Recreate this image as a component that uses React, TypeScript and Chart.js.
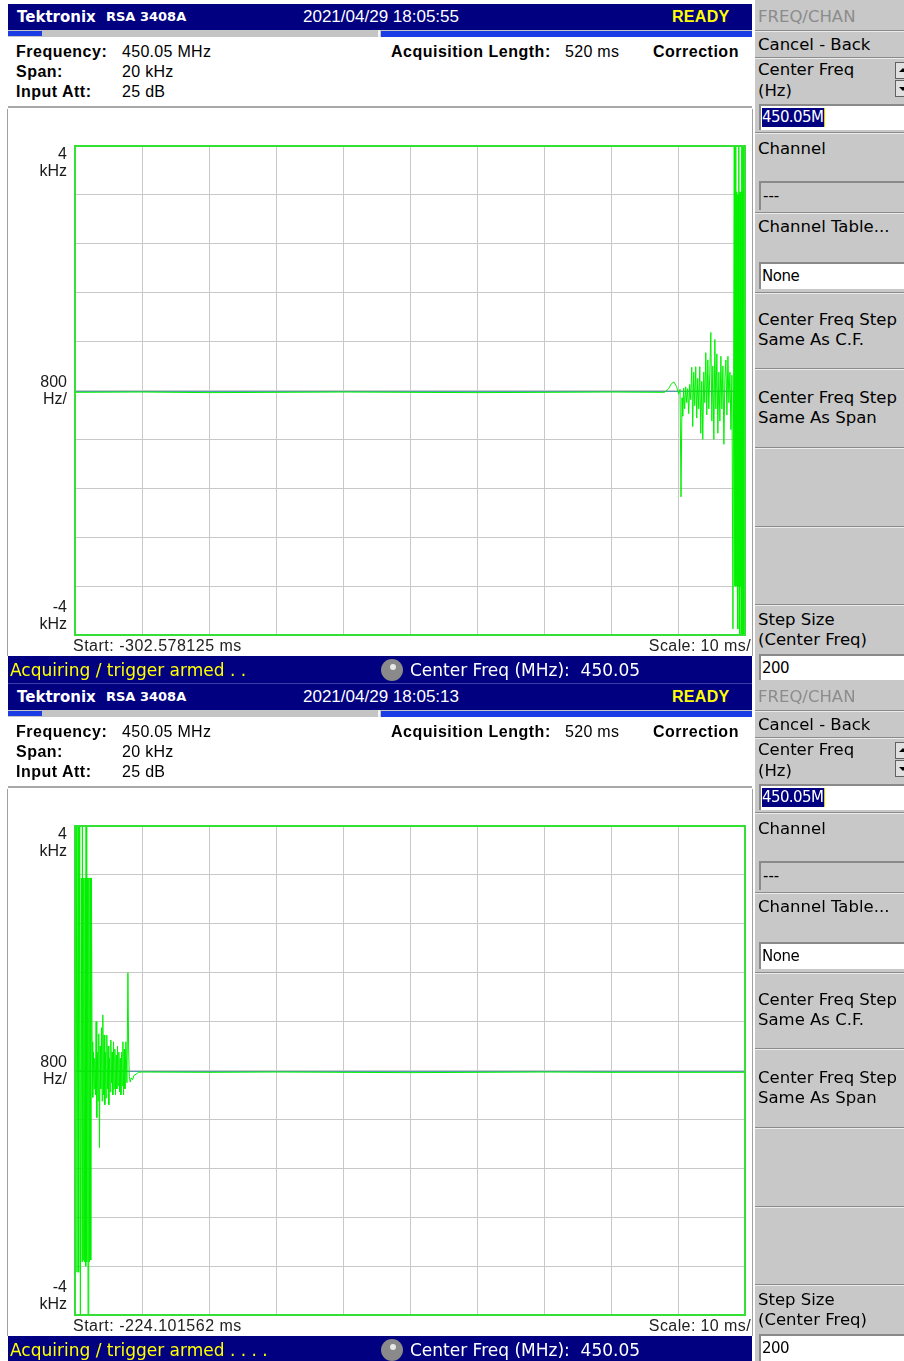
import React, { useEffect, useRef } from 'react';
import { Chart, registerables } from 'chart.js';

Chart.register(...registerables);

// ---- axis setup (10 ms/div, 800 Hz/div) ----
const X_MIN = 0;
const X_MAX = 100;
const X_STEP = 10;
const Y_MIN = -4000;
const Y_MAX = 4000;
const Y_STEP = 800;
const Y_LABEL_VALUES = [4000, 0, -4000];
const Y_LABEL_LINES = [['4', 'kHz'], ['800', 'Hz/'], ['-4', 'kHz']];

// ---- trace 1 (18:05:55) : time in ms from start, frequency offset in Hz ----
const TOP_T = [
  0, 10, 20, 30, 40, 50, 60, 70, 80, 88.0, 88.6, 89.0, 89.4, 89.8, 90.1, 90.3, 90.45, 90.6, 90.7, 90.85,
  91.0, 91.15, 91.3, 91.45, 91.6, 91.75, 91.9, 92.05, 92.2, 92.35, 92.5, 92.65, 92.8, 92.95, 93.1, 93.25,
  93.4, 93.55, 93.7, 93.85, 94.0, 94.15, 94.3, 94.45, 94.6, 94.75, 94.9, 95.05, 95.2, 95.35, 95.5, 95.65,
  95.8, 95.95, 96.1, 96.25, 96.4, 96.55, 96.7, 96.85, 97.0, 97.15, 97.3, 97.45, 97.6, 97.75, 97.9, 98.05,
  98.2, 98.3, 98.4, 98.45, 98.5, 98.55, 98.6, 98.65, 98.7, 98.75, 98.8, 98.85, 98.9, 98.95, 99.0, 99.05,
  99.1, 99.15, 99.2, 99.25, 99.3, 99.35, 99.4, 99.45, 99.5, 99.55, 99.6, 99.65, 99.7, 99.75, 99.8, 99.85,
  99.9, 99.95, 100,
];
const TOP_F = [
  -30, -25, -35, -30, -25, -30, -35, -30, -25, -30, 30, 110, 140, 60, -60, 20, -1740, -120, -420, 40,
  -300, 60, -200, 30, -380, 100, -150, 380, -590, 300, -250, 390, -450, 200, -300, 390,
  -700, 150, -800, 300, -200, 620, -400, 500, -300, 300, 950, -500, 400, -800, 835, -300,
  600, -700, 300, -500, 560, -300, 400, -880, 200, 500, -400, 560, -200, 300, -640, 250,
  -3900, 300, 4000, -3200, 3250, -3200, 4000, -3100, 3240, -3200, 3250, -3100, 3200, -3900, 3200, -3200,
  4000, -3200, 3250, -4000, 3200, -3200, 3250, -3200, 4000, -4000, 3250, -4000, 4000, -3200, 4000, -4000,
  4000, -4000, 4000,
];

// ---- trace 2 (18:05:13) ----
const BOT_T = [
  0, 0.05, 0.2, 0.3, 0.45, 0.55, 0.7, 0.8, 0.95, 1.05, 1.1, 1.2, 1.3, 1.4, 1.5, 1.6, 1.65, 1.75, 1.85, 1.95,
  2.05, 2.15, 2.25, 2.35, 2.45, 2.55, 2.65, 2.75, 2.85, 2.95, 3.05, 3.15, 3.25, 3.35, 3.45, 3.55, 3.65, 3.75,
  3.85, 3.95, 4.05, 4.15, 4.25, 4.35, 4.45, 4.55, 4.65, 4.75, 4.85, 4.95, 5.05, 5.15, 5.25, 5.35, 5.45, 5.55,
  5.65, 5.75, 5.85, 5.95, 6.05, 6.15, 6.25, 6.35, 6.45, 6.55, 6.65, 6.75, 6.85, 6.95, 7.05, 7.15, 7.25, 7.35,
  7.45, 7.6, 7.75, 7.9, 8.0, 8.1, 8.25, 8.4, 8.6, 8.8, 9.1, 9.5, 10, 20, 30, 40, 50, 60, 70, 80, 90, 100,
];
const BOT_F = [
  4000, -4000, 4000, -3300, 4000, -3300, 4000, -4000, 3150, -3130, 4000, -3100, 3150, -3130, 3150, -3200, 4000, -3130, 3150, -4000,
  3150, -3130, 3150, -3100, 3150, 470, -440, 300, -300, 200, -400, 800, -770, 300, -500, 600, -1260, 400,
  -300, 700, -500, 910, -400, 580, -560, 300, -450, 580, -300, 400, -560, 200, -350, 500, -200, 300,
  -400, 470, -300, 350, -400, 250, -300, 400, -250, 300, -350, 200, -400, 300, -250, 470, -400, 350,
  -300, 470, -200, 1600, 400, -100, -190, -120, -150, -80, -60, -30, -25, -30, -25, -30, -35, -30, -25, -30, -30, -30,
];

const FONT = '"Liberation Sans", Arial, sans-serif';
const WIDE = '"DejaVu Sans", Verdana, sans-serif';
const NAVY = '#000080';
const PANEL_GRAY = '#c8c8c8';
const TRACE = '#00f000';

const framePlugin = {
  id: 'frame',
  beforeDatasetsDraw(chart: any) {
    const { ctx, chartArea, scales } = chart;
    const py = Math.round(scales.y.getPixelForValue(0)) + 0.5;
    ctx.save();
    ctx.strokeStyle = '#4f9fb4';
    ctx.lineWidth = 1;
    ctx.beginPath();
    ctx.moveTo(chartArea.left, py);
    ctx.lineTo(chartArea.right, py);
    ctx.stroke();
    ctx.restore();
  },
  afterDraw(chart: any) {
    const { ctx, chartArea, scales } = chart;
    ctx.save();
    ctx.strokeStyle = '#33e033';
    ctx.lineWidth = 2;
    ctx.strokeRect(chartArea.left, chartArea.top, chartArea.right - chartArea.left, chartArea.bottom - chartArea.top);
    ctx.fillStyle = '#1a1a1a';
    ctx.font = '16px ' + FONT;
    ctx.textAlign = 'right';
    const lh = 17;
    const x = chartArea.left - 8;
    Y_LABEL_VALUES.forEach((v, i) => {
      const p = scales.y.getPixelForValue(v);
      const lines = Y_LABEL_LINES[i];
      let first: number;
      if (i === 0) first = p + 9;
      else if (i === Y_LABEL_VALUES.length - 1) first = p - 27;
      else first = p - 8;
      ctx.textBaseline = 'middle';
      lines.forEach((l, k) => ctx.fillText(l, x, first + k * lh));
    });
    ctx.restore();
  },
};

function TraceChart({ times, freqs }: { times: number[]; freqs: number[] }) {
  const ref = useRef<HTMLCanvasElement>(null);
  useEffect(() => {
    if (!ref.current) return;
    const data = times.map((t, i) => ({ x: t, y: freqs[i] }));
    const gridOpts = { color: '#c8c8c8', lineWidth: 1, drawTicks: false };
    const chart = new Chart(ref.current, {
      type: 'line',
      data: {
        datasets: [
          {
            data,
            borderColor: TRACE,
            borderWidth: 1,
            pointRadius: 0,
            tension: 0,
            fill: false,
          },
        ],
      },
      options: {
        animation: false,
        responsive: false,
        devicePixelRatio: 1,
        layout: { padding: { left: 67, top: 37, right: 7, bottom: 21 } },
        plugins: { legend: { display: false }, tooltip: { enabled: false } },
        events: [],
        scales: {
          x: {
            type: 'linear',
            min: X_MIN,
            max: X_MAX,
            ticks: { display: false, stepSize: X_STEP },
            grid: gridOpts,
            border: { display: false },
          },
          y: {
            type: 'linear',
            min: Y_MIN,
            max: Y_MAX,
            ticks: { display: false, stepSize: Y_STEP },
            grid: gridOpts,
            border: { display: false },
          },
        },
      } as any,
      plugins: [framePlugin],
    });
    return () => chart.destroy();
  }, [times, freqs]);
  return <canvas ref={ref} width={744} height={547} style={{ position: 'absolute', left: 8, top: 109, width: 744, height: 547 }} />;
}

function T({ x, y, children, style }: { x: number; y: number; children: React.ReactNode; style?: React.CSSProperties }) {
  return (
    <div style={{ position: 'absolute', left: x, top: y - 10, lineHeight: '20px', whiteSpace: 'nowrap', fontSize: 16, ...style }}>
      {children}
    </div>
  );
}

const BOLD: React.CSSProperties = { fontWeight: 'bold', letterSpacing: 0.5 };
const NORM: React.CSSProperties = { letterSpacing: 0.3 };
const SIDE: React.CSSProperties = { fontSize: 16.5 };

function Sep({ y }: { y: number }) {
  return (
    <div style={{ position: 'absolute', left: 0, top: y, width: 149, height: 1, background: '#8a8a8a', borderBottom: '1px solid #ececec' }} />
  );
}

function InputBox({ y, h, bg, children }: { y: number; h: number; bg: string; children: React.ReactNode }) {
  return (
    <div
      style={{
        position: 'absolute',
        left: 4,
        top: y,
        width: 150,
        height: h,
        background: bg,
        borderTop: '2px solid #8a8a8a',
        borderLeft: '2px solid #8a8a8a',
        boxSizing: 'border-box',
      }}
    >
      {children}
    </div>
  );
}

function SidePanel() {
  return (
    <div style={{ position: 'absolute', left: 755, top: 0, width: 149, height: 683, background: PANEL_GRAY, overflow: 'hidden', fontFamily: WIDE }}>
      <T x={3} y={17} style={{ ...SIDE, color: '#8c8c8c' }}>FREQ/CHAN</T>
      <Sep y={30} />
      <T x={3} y={45} style={SIDE}>Cancel - Back</T>
      <Sep y={57} />
      <T x={3} y={70} style={SIDE}>Center Freq</T>
      <T x={3} y={91} style={SIDE}>(Hz)</T>
      <div style={{ position: 'absolute', left: 140, top: 62, width: 12, height: 17, background: '#e0e0e0', border: '1px solid #606060', boxSizing: 'border-box' }}>
        <div style={{ position: 'absolute', left: 3, top: 5, width: 0, height: 0, borderLeft: '4px solid transparent', borderRight: '4px solid transparent', borderBottom: '4px solid #000' }} />
      </div>
      <div style={{ position: 'absolute', left: 140, top: 80, width: 12, height: 17, background: '#e0e0e0', border: '1px solid #606060', boxSizing: 'border-box' }}>
        <div style={{ position: 'absolute', left: 3, top: 6, width: 0, height: 0, borderLeft: '4px solid transparent', borderRight: '4px solid transparent', borderTop: '4px solid #000' }} />
      </div>
      <InputBox y={104} h={26} bg="#ffffff">
        <span style={{ position: 'absolute', left: 1, top: 2, height: 19, lineHeight: '19px', background: NAVY, color: '#fff', fontSize: 15, letterSpacing: -0.6, paddingRight: 1, borderRight: '1px solid #e0d000' }}>450.05M</span>
      </InputBox>
      <Sep y={132} />
      <T x={3} y={149} style={SIDE}>Channel</T>
      <InputBox y={181} h={29} bg={PANEL_GRAY}>
        <span style={{ position: 'absolute', left: 2, top: 3, fontSize: 15, lineHeight: '20px' }}>---</span>
      </InputBox>
      <Sep y={212} />
      <T x={3} y={227} style={SIDE}>Channel Table...</T>
      <InputBox y={262} h={27} bg="#ffffff">
        <span style={{ position: 'absolute', left: 1, top: 2, fontSize: 15, lineHeight: '20px', letterSpacing: -0.5 }}>None</span>
      </InputBox>
      <Sep y={292} />
      <T x={3} y={320} style={SIDE}>Center Freq Step</T>
      <T x={3} y={340} style={SIDE}>Same As C.F.</T>
      <Sep y={368} />
      <T x={3} y={398} style={SIDE}>Center Freq Step</T>
      <T x={3} y={418} style={SIDE}>Same As Span</T>
      <Sep y={447} />
      <Sep y={526} />
      <Sep y={604} />
      <T x={3} y={620} style={SIDE}>Step Size</T>
      <T x={3} y={640} style={SIDE}>(Center Freq)</T>
      <InputBox y={654} h={27} bg="#ffffff">
        <span style={{ position: 'absolute', left: 1, top: 2, fontSize: 15, lineHeight: '20px', letterSpacing: -0.5 }}>200</span>
      </InputBox>
    </div>
  );
}

function Panel({ top, date, start, status, times, freqs }: { top: number; date: string; start: string; status: string; times: number[]; freqs: number[] }) {
  return (
    <div style={{ position: 'absolute', left: 0, top, width: 904, height: 683, fontFamily: FONT, color: '#000' }}>
      {/* header */}
      <div style={{ position: 'absolute', left: 8, top: 4, width: 744, height: 26, background: NAVY }} />
      <T x={17} y={17} style={{ color: '#fff', fontWeight: 'bold', fontSize: 15, fontFamily: WIDE }}>Tektronix</T>
      <T x={106} y={17} style={{ color: '#fff', fontWeight: 'bold', fontSize: 13, fontFamily: WIDE }}>RSA 3408A</T>
      <T x={303} y={17} style={{ color: '#fff', fontSize: 17 }}>{date}</T>
      <T x={672} y={17} style={{ color: '#ffff00', fontWeight: 'bold', fontSize: 16, letterSpacing: 0.3 }}>READY</T>
      {/* progress strip */}
      <div style={{ position: 'absolute', left: 8, top: 30, width: 744, height: 7, background: '#c4c4c4' }} />
      <div style={{ position: 'absolute', left: 8, top: 31, width: 34, height: 5, background: '#1c3ce6' }} />
      <div style={{ position: 'absolute', left: 378, top: 30, width: 2, height: 7, background: '#f4f4f4' }} />
      <div style={{ position: 'absolute', left: 381, top: 31, width: 371, height: 6, background: '#1c3ce6' }} />
      {/* info */}
      <T x={16} y={52} style={BOLD}>Frequency:</T>
      <T x={122} y={52} style={NORM}>450.05 MHz</T>
      <T x={16} y={72} style={BOLD}>Span:</T>
      <T x={122} y={72} style={NORM}>20 kHz</T>
      <T x={16} y={92} style={BOLD}>Input Att:</T>
      <T x={122} y={92} style={NORM}>25 dB</T>
      <T x={391} y={52} style={BOLD}>Acquisition Length:</T>
      <T x={565} y={52} style={NORM}>520 ms</T>
      <T x={653} y={52} style={BOLD}>Correction</T>
      <div style={{ position: 'absolute', left: 8, top: 106, width: 744, height: 2, background: '#a8a8a8' }} />
      {/* plot */}
      <div style={{ position: 'absolute', left: 7, top: 109, width: 1, height: 547, background: '#a0a0a0' }} />
      <div style={{ position: 'absolute', left: 752, top: 109, width: 1, height: 547, background: '#a0a0a0' }} />
      <TraceChart times={times} freqs={freqs} />
      <T x={73} y={646} style={{ color: '#222', letterSpacing: 0.5 }}>{'Start: ' + start}</T>
      <div style={{ position: 'absolute', right: 904 - 751, top: 636, lineHeight: '20px', whiteSpace: 'nowrap', fontSize: 16, color: '#222', letterSpacing: 0.4 }}>Scale: 10 ms/</div>
      {/* status bar */}
      <div style={{ position: 'absolute', left: 8, top: 656, width: 744, height: 28, background: NAVY }} />
      <div style={{ position: 'absolute', left: 8, top: 683, width: 744, height: 1, background: '#3c3ca8' }} />
      <T x={10} y={670} style={{ color: '#ffff00', fontSize: 17, fontFamily: WIDE }}>{status}</T>
      <div style={{ position: 'absolute', left: 381, top: 659, width: 22, height: 22, borderRadius: 11, background: '#8a8a8a' }}>
        <div style={{ position: 'absolute', left: 9, top: 5, width: 6, height: 6, borderRadius: 3, background: '#e8e8e8' }} />
      </div>
      <T x={410} y={670} style={{ color: '#fff', fontSize: 17, fontFamily: WIDE }}>{'Center Freq (MHz):\u00a0\u00a0450.05'}</T>
      <SidePanel />
    </div>
  );
}

export default function App() {
  return (
    <div style={{ position: 'absolute', left: 0, top: 0, width: 904, height: 1361, background: '#fff', overflow: 'hidden' }}>
      <Panel top={0} date="2021/04/29 18:05:55" start="-302.578125 ms" status="Acquiring / trigger armed . ." times={TOP_T} freqs={TOP_F} />
      <Panel top={680} date="2021/04/29 18:05:13" start="-224.101562 ms" status="Acquiring / trigger armed . . . ." times={BOT_T} freqs={BOT_F} />
    </div>
  );
}
